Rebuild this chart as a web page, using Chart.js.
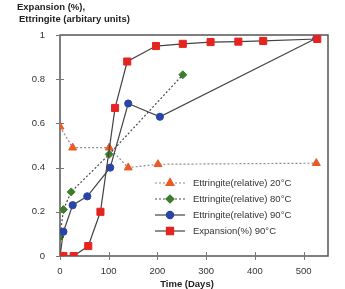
<!DOCTYPE html>
<html>
<head>
<meta charset="utf-8">
<script src="https://cdn.jsdelivr.net/npm/chart.js@4/dist/chart.umd.min.js"></script>
<style>
  html, body { margin: 0; padding: 0; background: #fff; }
</style>
</head>
<body>
<canvas id="grafico" width="345" height="289"></canvas>
<script>
// datos
const xTicks = [0, 100, 200, 300, 400, 500];
const yTicks = [0, 0.2, 0.4, 0.6, 0.8, 1];
const seriesNames = [
  "Ettringite(relative) 20°C",
  "Ettringite(relative) 80°C",
  "Ettringite(relative) 90°C",
  "Expansion(%) 90°C"
];

const days20 = [0, 26, 101, 140, 201, 526];
const ett20 = [0.585, 0.49, 0.49, 0.40, 0.415, 0.42];

const days80 = [0, 7, 23, 101, 252];
const ett80 = [0.086, 0.21, 0.29, 0.46, 0.82];

const days90 = [0, 7, 26, 56, 103, 140, 205, 526];
const ett90 = [0, 0.11, 0.23, 0.27, 0.40, 0.69, 0.63, 0.985];

const daysExp = [0, 7, 28, 58, 83, 113, 138, 197, 252, 309, 366, 417, 528];
const expansion = [0, 0, 0, 0.045, 0.20, 0.67, 0.88, 0.95, 0.96, 0.968, 0.97, 0.973, 0.982];

const toPoints = (xs, ys) => xs.map((x, i) => ({ x, y: ys[i] }));

const estilos = [
  { color: "#ea5b25", line: "#8a8a8a", dash: [2, 2], style: "triangle", r: 4.6 },
  { color: "#3e7d2e", line: "#4a4a4a", dash: [2, 2], style: "rectRot", r: 4 },
  { color: "#2b44a8", line: "#444", dash: [], style: "circle", r: 3.6 },
  { color: "#e52420", line: "#444", dash: [], style: "rect", r: 5 }
];

const datos = [
  toPoints(days20, ett20),
  toPoints(days80, ett80),
  toPoints(days90, ett90),
  toPoints(daysExp, expansion)
];

const datasets = datos.map((d, i) => ({
  label: seriesNames[i],
  data: d,
  showLine: true,
  borderColor: estilos[i].line,
  borderWidth: 1.2,
  borderDash: estilos[i].dash,
  pointStyle: estilos[i].style,
  pointRadius: estilos[i].r,
  pointBackgroundColor: estilos[i].color,
  pointBorderColor: estilos[i].color,
  pointBorderWidth: 1,
  order: 4 - i
}));

// marco, ticks cruzados, titulos y leyenda
const decoracion = {
  id: "decoracion",
  beforeDatasetsDraw(chart) {
    const { ctx, chartArea: a, scales } = chart;
    ctx.save();
    ctx.strokeStyle = "#555";
    ctx.lineWidth = 1.5;
    ctx.strokeRect(a.left, a.top, a.right - a.left, a.bottom - a.top);
    ctx.lineWidth = 1;
    ctx.strokeStyle = "#777";
    xTicks.forEach(v => {
      const px = Math.round(scales.x.getPixelForValue(v)) + 0.5;
      ctx.beginPath();
      ctx.moveTo(px, a.bottom - 4);
      ctx.lineTo(px, a.bottom + 4);
      ctx.stroke();
    });
    yTicks.forEach(v => {
      const py = Math.round(scales.y.getPixelForValue(v)) + 0.5;
      ctx.beginPath();
      ctx.moveTo(a.left - 4, py);
      ctx.lineTo(a.left + 4, py);
      ctx.stroke();
    });
    ctx.restore();
  },
  afterDraw(chart) {
    const { ctx } = chart;
    ctx.save();
    ctx.fillStyle = "#222";
    ctx.textBaseline = "middle";
    ctx.font = "bold 9.5px 'Liberation Sans', Arial, sans-serif";
    ctx.fillText("Expansion (%),", 17, 7);
    ctx.fillText("Ettringite (arbitary units)", 19, 19);
    ctx.textAlign = "center";
    ctx.fillText("Time (Days)", 187, 284);

    // leyenda
    ctx.textAlign = "left";
    ctx.font = "9.5px 'Liberation Sans', Arial, sans-serif";
    estilos.forEach((e, i) => {
      const y = 183 + 16 * i;
      ctx.strokeStyle = e.line;
      ctx.lineWidth = 1.2;
      ctx.setLineDash(e.dash);
      ctx.beginPath();
      ctx.moveTo(155, y);
      ctx.lineTo(185, y);
      ctx.stroke();
      ctx.setLineDash([]);
      ctx.fillStyle = e.color;
      ctx.strokeStyle = e.color;
      Chart.helpers.drawPoint(ctx, { pointStyle: e.style, radius: e.r, rotation: 0, borderWidth: 1 }, 170, y);
      ctx.fillStyle = "#333";
      ctx.fillText(seriesNames[i], 193, y);
    });
    ctx.restore();
  }
};

const fuente = { family: "'Liberation Sans', Arial, sans-serif", size: 9.5 };

new Chart(document.getElementById("grafico"), {
  type: "scatter",
  data: { datasets },
  options: {
    responsive: false,
    animation: false,
    layout: { padding: { left: 0, right: 17, top: 35, bottom: 0 } },
    plugins: {
      legend: { display: false },
      tooltip: { enabled: false }
    },
    scales: {
      x: {
        type: "linear",
        min: 0,
        max: 550,
        afterBuildTicks: s => { s.ticks = xTicks.map(v => ({ value: v })); },
        afterFit: s => { s.height = 33; },
        grid: { display: false, drawTicks: false },
        border: { display: false },
        ticks: { padding: 10, color: "#333", font: fuente, callback: v => String(v) }
      },
      y: {
        min: 0,
        max: 1,
        afterBuildTicks: s => { s.ticks = yTicks.map(v => ({ value: v })); },
        afterFit: s => { s.width = 60; },
        grid: { display: false, drawTicks: false },
        border: { display: false },
        ticks: { padding: 15, color: "#333", font: fuente, callback: v => String(v) }
      }
    }
  },
  plugins: [decoracion]
});
</script>
</body>
</html>
